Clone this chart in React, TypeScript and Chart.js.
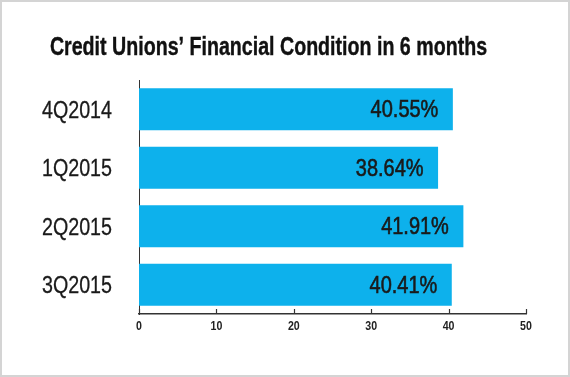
import React, { useEffect, useRef } from "react";
import { Chart, registerables } from "chart.js";

Chart.register(...registerables);

const TITLE = "Credit Unions’ Financial Condition in 6 months";
const categories = ["4Q2014", "1Q2015", "2Q2015", "3Q2015"];
const values = [40.55, 38.64, 41.91, 40.41];
const xTicks = [0, 10, 20, 30, 40, 50];

const FONT = "'Liberation Sans', Arial, sans-serif";
const BAR_COLOR = "#0db1ec";
const AXIS_COLOR = "#333333";

function condensedText(
  ctx: CanvasRenderingContext2D,
  text: string,
  x: number,
  y: number,
  font: string,
  squeeze: number,
  align: "left" | "right" | "center",
  stroke = 0
) {
  ctx.save();
  ctx.font = font;
  ctx.textAlign = align;
  ctx.textBaseline = "alphabetic";
  ctx.translate(x, y);
  ctx.scale(squeeze, 1);
  ctx.fillText(text, 0, 0);
  if (stroke > 0) {
    ctx.lineWidth = stroke;
    ctx.strokeStyle = ctx.fillStyle as string;
    ctx.strokeText(text, 0, 0);
  }
  ctx.restore();
}

const overlayPlugin = {
  id: "overlay",
  afterDraw(chart: any) {
    const ctx = chart.ctx as CanvasRenderingContext2D;
    const xs = chart.scales.x;
    const ys = chart.scales.y;
    const area = chart.chartArea;
    ctx.save();
    // title
    ctx.fillStyle = "#111111";
    condensedText(ctx, TITLE, (area.left + area.right) / 2 - 64, 55, `bold 25px ${FONT}`, 0.785, "center", 0.4);
    // upward tick marks on x axis + tick labels
    ctx.strokeStyle = AXIS_COLOR;
    ctx.lineWidth = 1.2;
    xTicks.forEach((v) => {
      const px = Math.round(xs.getPixelForValue(v)) + 0.5;
      ctx.beginPath();
      ctx.moveTo(px, area.bottom - 5);
      ctx.lineTo(px, area.bottom);
      ctx.stroke();
    });
    ctx.fillStyle = "#222222";
    xTicks.forEach((v) => {
      const px = xs.getPixelForValue(v);
      condensedText(ctx, String(v), px, 329.5, `bold 12.5px ${FONT}`, 0.85, "center");
    });
    // category labels
    ctx.fillStyle = "#1a1a1a";
    categories.forEach((c, i) => {
      const py = ys.getPixelForValue(i);
      condensedText(ctx, c, area.left - 27, py + 8.5, `24px ${FONT}`, 0.82, "right", 0.3);
    });
    // value labels inside bar ends
    const meta = chart.getDatasetMeta(0);
    meta.data.forEach((bar: any, i: number) => {
      condensedText(ctx, values[i].toFixed(2) + "%", bar.x - 14.5, bar.y + 8, `23.5px ${FONT}`, 0.85, "right", 0.6);
    });
    ctx.restore();
  },
};

export default function App() {
  const ref = useRef<HTMLCanvasElement | null>(null);
  useEffect(() => {
    if (!ref.current) return;
    const chart = new Chart(ref.current, {
      type: "bar",
      data: {
        labels: categories,
        datasets: [
          {
            data: values,
            backgroundColor: BAR_COLOR,
            borderWidth: 0,
            categoryPercentage: 1,
            barPercentage: 0.715,
          },
        ],
      },
      options: {
        indexAxis: "y",
        responsive: false,
        animation: false,
        layout: { padding: { left: 10, right: 44, top: 80, bottom: 33 } },
        plugins: {
          legend: { display: false },
          tooltip: { enabled: false },
          title: { display: false },
        },
        scales: {
          x: {
            min: 0,
            max: 50,
            afterBuildTicks: (scale: any) => {
              scale.ticks = xTicks.map((v) => ({ value: v }));
            },
            afterFit: (scale: any) => {
              scale.height = 30;
            },
            grid: { display: false, drawTicks: false },
            border: { display: true, color: AXIS_COLOR, width: 1.5 },
            ticks: { display: false },
          },
          y: {
            afterFit: (scale: any) => {
              scale.width = 129;
            },
            grid: { display: false, drawTicks: false },
            border: { display: true, color: AXIS_COLOR, width: 1 },
            ticks: { display: false },
          },
        },
      },
      plugins: [overlayPlugin],
    });
    return () => chart.destroy();
  }, []);

  return (
    <div style={{ position: "absolute", left: 0, top: 0, width: 570, height: 377, background: "#ffffff" }}>
      <canvas ref={ref} width={570} height={377} style={{ display: "block" }} />
      <div
        style={{
          position: "absolute",
          left: 0,
          top: 0,
          width: 570,
          height: 377,
          boxSizing: "border-box",
          border: "2px solid #d4d4d4",
          pointerEvents: "none",
        }}
      />
    </div>
  );
}
